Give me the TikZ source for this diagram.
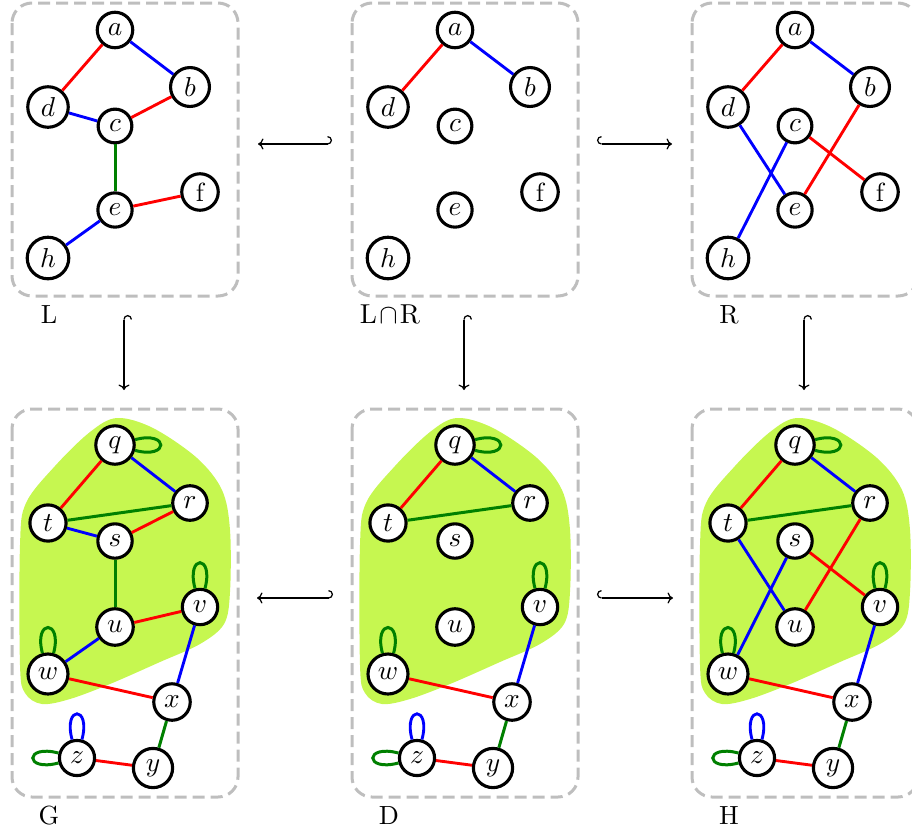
\documentclass[tikz,border=0pt]{standalone}
\usetikzlibrary{arrows.meta}
\definecolor{blobc}{RGB}{198,247,80}
\definecolor{dgreen}{RGB}{0,128,0}
\definecolor{boxgray}{RGB}{190,190,190}
\newcommand\topnodes[1]{%
  \node[vtx] (#1a) at (115,30) {$a$};
  \node[vtx] (#1b) at (190,87) {$b$};
  \node[vtx] (#1d) at (48,107) {$d$};
  \node[vtx] (#1c) at (115,126) {$c$};
  \node[vtx] (#1e) at (115,210) {$e$};
  \node[vtx] (#1f) at (200,192) {f};
  \node[vtx] (#1h) at (48,258) {$h$};}
\newcommand\botnodes[1]{%
  \fill[blobc] plot[smooth cycle, tension=0.55] coordinates {(117,418) (153,428) (197,458) (222,490) (230,530) (230,592) (224,624) (200,644) (160,662) (110,684) (70,699) (42,704) (25,693) (20,665) (20,545) (26,503) (55,466) (90,432)};
  \node[vtx] (#1q) at (115,445) {$q$};
  \node[vtx] (#1r) at (190,503) {$r$};
  \node[vtx] (#1t) at (48,523) {$t$};
  \node[vtx] (#1s) at (115,541) {$s$};
  \node[vtx] (#1v) at (200,607) {$v$};
  \node[vtx] (#1u) at (115,627) {$u$};
  \node[vtx] (#1w) at (48,674) {$w$};
  \node[vtx] (#1x) at (172,702) {$x$};
  \node[vtx] (#1z) at (77,758) {$z$};
  \node[vtx] (#1y) at (153,768) {$y$};
  \draw[redE] (#1q) -- (#1t);
  \draw[blueE] (#1q) -- (#1r);
  \draw[greenE] (#1t) -- (#1r);
  \draw[blueE] (#1v) -- (#1x);
  \draw[redE] (#1w) -- (#1x);
  \draw[greenE] (#1x) -- (#1y);
  \draw[redE] (#1z) -- (#1y);
  \path (#1q) edge[greenE, loop right] ();
  \path (#1v) edge[greenE, loop above] ();
  \path (#1w) edge[greenE, loop above] ();
  \path (#1z) edge[blueE, loop above] ();
  \path (#1z) edge[greenE, loop left] ();}
\begin{document}
\begin{tikzpicture}[x=0.4pt,y=-0.4pt,
  every loop/.style={},
  vtx/.style={circle,draw,line width=1.25pt,fill=white,inner sep=2.4pt,font=\fontsize{10.5}{12}\selectfont},
  redE/.style={draw=red,line width=1.15pt},
  blueE/.style={draw=blue,line width=1.15pt},
  greenE/.style={draw=dgreen,line width=1.2pt},
  panel/.style={draw=boxgray,line width=1.2pt,dash pattern=on 4.8pt off 2.4pt,rounded corners=8pt},
  lbl/.style={anchor=base,font=\fontsize{10.5}{12}\selectfont,inner sep=0pt},
  armono/.style={line width=0.5pt,-{Computer Modern Rightarrow[width=4.4pt,length=2.2pt]}},
  hookA/.style={armono,{Hooks[right,width=6.4pt,length=1.8pt]}-{Computer Modern Rightarrow[width=4.4pt,length=2.2pt]}},
  hookB/.style={armono,{Hooks[left,width=6.4pt,length=1.8pt]}-{Computer Modern Rightarrow[width=4.4pt,length=2.2pt]}}]
\useasboundingbox (0,0) rectangle (912,834);
% panel L
\begin{scope}
  \draw[panel] (12,3) rectangle (238,296);
  \topnodes{L}
  \draw[redE] (La) -- (Ld);
  \draw[blueE] (La) -- (Lb);
  \draw[blueE] (Ld) -- (Lc);
  \draw[redE] (Lc) -- (Lb);
  \draw[greenE] (Lc) -- (Le);
  \draw[redE] (Le) -- (Lf);
  \draw[blueE] (Le) -- (Lh);
  \node[lbl] (labL) at (49,323.5) {L};
\end{scope}
% panel L cap R
\begin{scope}[shift={(340,0)}]
  \draw[panel] (12,3) rectangle (238,296);
  \topnodes{K}
  \draw[redE] (Ka) -- (Kd);
  \draw[blueE] (Ka) -- (Kb);
  \node[lbl] (labK) at (50,323.5) {$\mathrm{L}\mskip1.5mu{\cap}\mskip1.5mu\mathrm{R}$};
\end{scope}
% panel R
\begin{scope}[shift={(680,0)}]
  \draw[panel] (12,3) rectangle (238,296);
  \topnodes{R}
  \draw[redE] (Ra) -- (Rd);
  \draw[blueE] (Ra) -- (Rb);
  \draw[blueE] (Rd) -- (Re);
  \draw[redE] (Rc) -- (Rf);
  \draw[redE] (Rb) -- (Re);
  \draw[blueE] (Rc) -- (Rh);
  \node[lbl] (labR) at (49,323.5) {R};
\end{scope}
% panel G
\begin{scope}
  \draw[panel] (12,409) rectangle (238,797);
  \botnodes{G}
  \draw[blueE] (Gt) -- (Gs);
  \draw[redE] (Gs) -- (Gr);
  \draw[greenE] (Gs) -- (Gu);
  \draw[redE] (Gu) -- (Gv);
  \draw[blueE] (Gu) -- (Gw);
  \node[lbl] (labG) at (49,824) {G};
\end{scope}
% panel D
\begin{scope}[shift={(340,0)}]
  \draw[panel] (12,409) rectangle (238,797);
  \botnodes{D}
  \node[lbl] (labD) at (49,824) {D};
\end{scope}
% panel H
\begin{scope}[shift={(680,0)}]
  \draw[panel] (12,409) rectangle (238,797);
  \botnodes{H}
  \draw[blueE] (Ht) -- (Hu);
  \draw[blueE] (Hs) -- (Hw);
  \draw[redE] (Hs) -- (Hv);
  \draw[redE] (Hr) -- (Hu);
  \node[lbl] (labH) at (49,824) {H};
\end{scope}
% morphisms
\coordinate (h1) at (332,144); \coordinate (t1) at (258,144);
\coordinate (h2) at (597,144); \coordinate (t2) at (672,144);
\coordinate (h3) at (333,598); \coordinate (t3) at (257,598);
\coordinate (h4) at (597,598); \coordinate (t4) at (673,598);
\coordinate (h5) at (124,315); \coordinate (t5) at (124,390);
\coordinate (h6) at (464,315); \coordinate (t6) at (464,390);
\coordinate (h7) at (804,315); \coordinate (t7) at (804,390);
\draw[hookB] (h1) -- (t1);
\draw[hookA] (h2) -- (t2);
\draw[hookB] (h3) -- (t3);
\draw[hookA] (h4) -- (t4);
\draw[hookA] (h5) -- (t5);
\draw[hookA] (h6) -- (t6);
\draw[hookA] (h7) -- (t7);
\end{tikzpicture}
\end{document}
